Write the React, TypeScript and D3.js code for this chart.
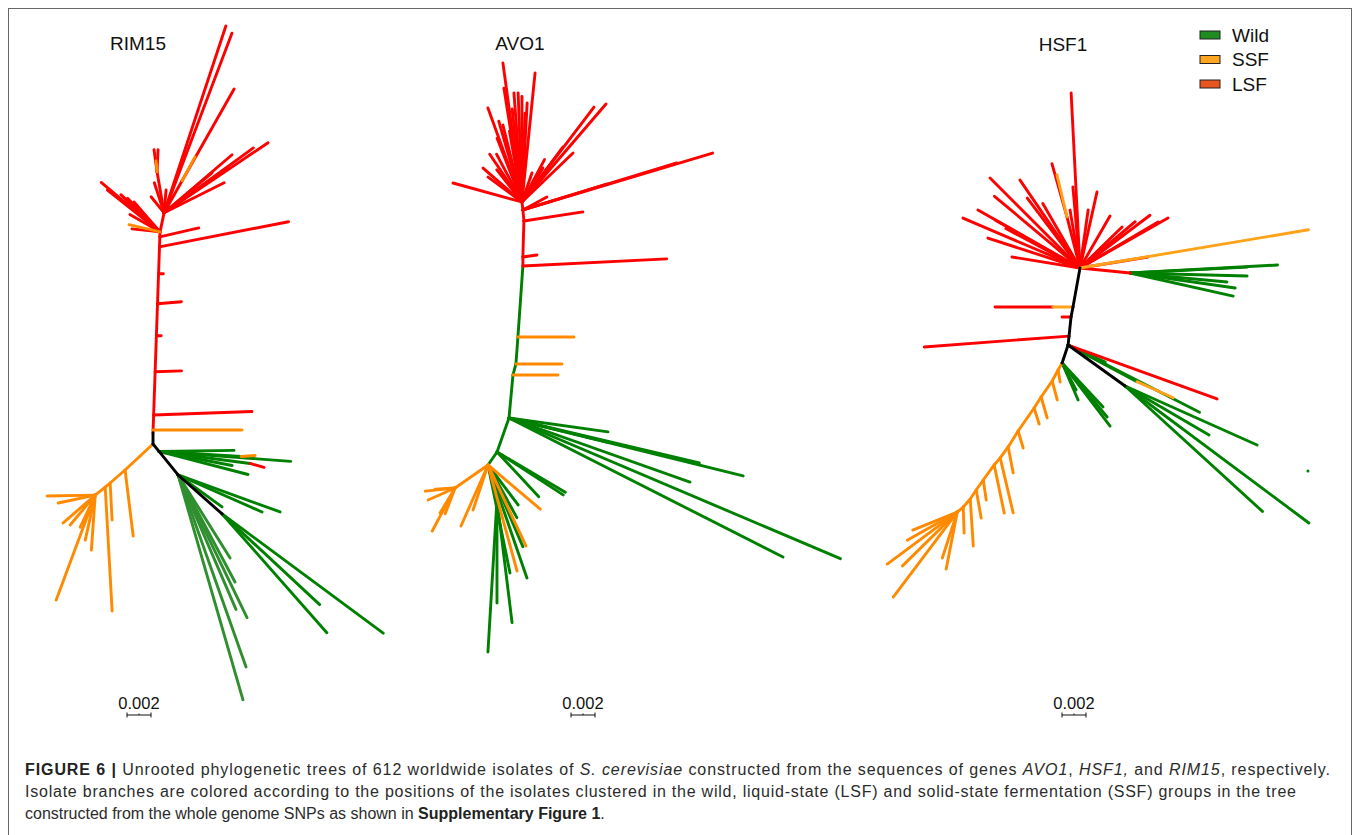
import React from "react";
import * as d3 from "d3";

// each branch: [parent, node id ("" for a tip), length (x0.001 subst./site), angle (deg), group]
type Edge = [string, string, number, number, string];

const rim15Edges: Edge[] = [
  ["O", "A", 0.92, 90, "k"],
  ["A", "s1", 0.25, 88, "r"],
  ["s1", "", 7.4, 0, "o"],
  ["s1", "s2", 1.25, 88, "r"],
  ["s2", "", 8.2, 2, "r"],
  ["s2", "s3", 3.6, 88, "r"],
  ["s3", "", 2.2, 2, "r"],
  ["s3", "s4", 3.0, 88, "r"],
  ["s4", "", 0.4, 0, "r"],
  ["s4", "s5", 2.67, 88, "r"],
  ["s5", "", 2.0, 5, "r"],
  ["s5", "s6", 2.5, 88, "r"],
  ["s6", "", 0.4, 0, "r"],
  ["s6", "s7", 2.25, 88, "r"],
  ["s7", "", 10.95, 11, "r"],
  ["s7", "s8", 0.83, 88, "r"],
  ["s8", "", 3.33, 13, "r"],
  ["s8", "H1", 0.42, 88, "r"],
  ["H1", "", 6.4, 140, "r"],
  ["H1", "", 5.6, 141.5, "r"],
  ["H1", "", 4.5, 136.5, "r"],
  ["H1", "", 3.9, 134, "r"],
  ["H1", "", 3.3, 131, "r"],
  ["H1", "", 2.9, 150, "r"],
  ["H1", "", 2.35, 174, "r"],
  ["H1", "", 2.65, 167, "o"],
  ["H1", "H2", 1.62, 78, "r"],
  ["H2", "n1", 3.47, 99.7, "r"],
  ["n1", "", 1.85, 97.8, "r"],
  ["n1", "", 1.84, 87.4, "r"],
  ["n1", "", 0.92, 95, "o"],
  ["H2", "", 2.63, 108, "r"],
  ["H2", "", 1.72, 129, "r"],
  ["H2", "", 1.92, 85, "r"],
  ["H2", "", 16.4, 71.7, "r"],
  ["H2", "", 16.0, 69.3, "r"],
  ["H2", "m", 3.06, 60.6, "r"],
  ["m", "", 8.8, 60.5, "r"],
  ["m", "", 2.27, 61.6, "o"],
  ["H2", "", 10.45, 34, "r"],
  ["H2", "", 9.2, 36, "r"],
  ["H2", "", 6.45, 35.5, "r"],
  ["H2", "", 7.45, 40.5, "r"],
  ["H2", "", 5.6, 26.6, "r"],
  ["H2", "", 5.2, 39.8, "r"],
  ["O", "a1", 3.18, -137, "o"],
  ["a1", "", 5.54, -83, "o"],
  ["a1", "a2", 1.65, -139, "o"],
  ["a2", "", 3.09, -87, "o"],
  ["a2", "a3", 0.53, -141, "o"],
  ["a3", "", 10.35, -86.8, "o"],
  ["a3", "a4", 1.07, -141, "o"],
  ["a4", "", 4.0, -179, "o"],
  ["a4", "", 3.15, -168, "o"],
  ["a4", "", 3.54, -139, "o"],
  ["a4", "", 3.25, -130, "o"],
  ["a4", "", 3.84, -102.5, "o"],
  ["a4", "", 4.6, -94, "o"],
  ["a4", "", 9.33, -110.4, "o"],
  ["a4", "", 2.95, -115, "o"],
  ["O", "g0", 0.8, -51, "k"],
  ["g0", "", 6.25, 0.8, "g"],
  ["g0", "", 11.0, -4.3, "g"],
  ["g0", "gA", 6.85, -3.5, "g"],
  ["gA", "", 1.17, 4, "o"],
  ["g0", "gB", 7.65, -7.5, "g"],
  ["gB", "", 1.21, -16, "r"],
  ["g0", "", 7.66, -14.5, "g"],
  ["g0", "", 6.2, -10.9, "g"],
  ["g0", "b1", 2.52, -51, "k"],
  ["b1", "", 4.53, -36, "g"],
  ["b1", "", 7.65, -23.8, "g"],
  ["b1", "", 9.04, -19.9, "g"],
  ["b1", "", 19.5, -73.9, "f"],
  ["b1", "", 16.97, -70.5, "f"],
  ["b1", "", 13.2, -64.2, "f"],
  ["b1", "", 10.1, -62, "f"],
  ["b1", "", 8.16, -57.9, "f"],
  ["b1", "", 12.2, -66.7, "f"],
  ["b1", "b2", 4.9, -41.5, "k"],
  ["b2", "", 16.7, -36.5, "g"],
  ["b2", "", 13.2, -48.6, "g"],
  ["b2", "", 11.1, -42.9, "g"],
];

const avo1Edges: Edge[] = [
  ["O", "v1", 3.6, 84.7, "g"],
  ["v1", "", 3.75, 0, "o"],
  ["v1", "v2", 0.95, 75, "g"],
  ["v2", "", 3.83, 0, "o"],
  ["v2", "v3", 2.26, 85.8, "g"],
  ["v3", "", 4.67, 0, "o"],
  ["v3", "v4", 5.93, 86, "g"],
  ["v4", "", 12.0, 2.8, "r"],
  ["v4", "v5", 0.75, 90, "r"],
  ["v5", "", 1.18, 8, "r"],
  ["v5", "v6", 3.0, 88.4, "r"],
  ["v6", "", 4.97, 8.7, "r"],
  ["v6", "v7", 0.92, 95, "r"],
  ["v7", "", 2.27, 28.4, "r"],
  ["v7", "", 16.5, 16.7, "r"],
  ["v7", "", 7.3, 17.2, "r"],
  ["v7", "", 13.4, 17, "r"],
  ["v7", "H", 0.67, 97, "r"],
  ["H", "", 11.7, 97.8, "r"],
  ["H", "", 10.8, 84.2, "r"],
  ["H", "", 9.6, 99, "r"],
  ["H", "", 9.1, 94.2, "r"],
  ["H", "", 9.1, 92, "r"],
  ["H", "", 8.8, 90, "r"],
  ["H", "", 7.4, 88, "r"],
  ["H", "", 7.8, 96, "r"],
  ["H", "", 7.0, 106, "r"],
  ["H", "", 6.0, 100, "r"],
  ["H", "", 8.33, 109.9, "r"],
  ["H", "", 5.7, 111.3, "r"],
  ["H", "", 6.6, 103.9, "r"],
  ["H", "", 4.5, 118, "r"],
  ["H", "", 4.8, 124, "r"],
  ["H", "", 8.26, 87, "r"],
  ["H", "", 9.93, 52.8, "r"],
  ["H", "", 10.76, 49.4, "r"],
  ["H", "", 5.7, 53.3, "r"],
  ["H", "", 4.0, 62, "r"],
  ["H", "", 3.33, 58.3, "r"],
  ["H", "", 2.56, 71, "r"],
  ["H", "", 5.96, 164.6, "r"],
  ["H", "", 4.3, 138.9, "r"],
  ["H", "", 3.4, 128, "r"],
  ["H", "", 3.5, 143.7, "r"],
  ["H", "", 5.9, 43.8, "r"],
  ["O", "", 8.33, -8, "g"],
  ["O", "", 8.4, -13.8, "g"],
  ["O", "", 20.1, -13.9, "g"],
  ["O", "", 16.0, -19.5, "g"],
  ["O", "", 16.3, -13.3, "g"],
  ["O", "", 30.0, -23, "g"],
  ["O", "", 25.6, -26.9, "g"],
  ["O", "w1", 3.0, -109.4, "g"],
  ["w1", "", 6.6, -30.5, "g"],
  ["w1", "", 6.57, -33, "g"],
  ["w1", "", 5.1, -47, "g"],
  ["w1", "w2", 1.32, -124.7, "g"],
  ["w2", "", 5.7, -40.2, "o"],
  ["w2", "", 4.17, -53, "g"],
  ["w2", "", 5.0, -61.3, "g"],
  ["w2", "", 7.45, -64.9, "o"],
  ["w2", "", 7.4, -66.9, "g"],
  ["w2", "", 9.96, -71, "g"],
  ["w2", "", 9.16, -74.7, "o"],
  ["w2", "", 9.18, -78.5, "g"],
  ["w2", "w3", 3.0, -75.6, "g"],
  ["w3", "", 12.7, -93.4, "g"],
  ["w3", "", 8.6, -90, "g"],
  ["w3", "", 10.3, -83, "g"],
  ["w2", "o1", 3.35, -145, "o"],
  ["w2", "", 3.95, -108.4, "o"],
  ["w2", "", 5.56, -113.9, "o"],
  ["o1", "", 2.5, -174, "o"],
  ["o1", "", 2.46, -156, "o"],
  ["o1", "", 4.06, -118, "o"],
  ["o1", "", 2.43, -121, "o"],
  ["o1", "", 2.3, -111, "o"],
  ["o1", "", 1.67, -177, "o"],
];

const hsf1Edges: Edge[] = [
  ["H", "s1", 3.3, -100.2, "k"],
  ["s1", "t1", 1.67, 180, "y"],
  ["t1", "", 4.83, 180, "r"],
  ["s1", "s2", 0.85, -101, "k"],
  ["s2", "", 0.75, 180, "r"],
  ["s2", "s3", 1.6, -96, "k"],
  ["s3", "", 12.1, -175.7, "r"],
  ["s3", "J", 0.75, -96, "k"],
  ["J", "", 13.2, -19.9, "r"],
  ["J", "", 3.4, -24.7, "g"],
  ["J", "", 12.3, -27.1, "g"],
  ["J", "q", 6.5, -28, "g"],
  ["q", "", 3.3, -24, "y"],
  ["J", "L", 5.85, -35.7, "k"],
  ["L", "", 19.1, -36.7, "g"],
  ["L", "", 15.5, -42.4, "g"],
  ["L", "", 8.1, -30.3, "g"],
  ["L", "", 12.05, -24.1, "g"],
  ["L", "", 16.8, -24.9, "d"],
  ["J", "K", 1.58, -108.4, "k"],
  ["K", "", 3.36, -66.6, "g"],
  ["K", "", 5.0, -47, "g"],
  ["K", "", 6.6, -52.7, "g"],
  ["K", "", 5.86, -50.2, "g"],
  ["K", "", 2.53, -62.6, "g"],
  ["K", "c1", 0.67, -119.7, "o"],
  ["c1", "", 1.01, -80.5, "o"],
  ["c1", "c2", 1.04, -118.6, "o"],
  ["c2", "", 1.64, -75, "o"],
  ["c2", "c3", 1.62, -124.5, "o"],
  ["c3", "", 1.82, -74, "o"],
  ["c3", "c4", 1.09, -122.5, "o"],
  ["c4", "", 1.4, -72.6, "o"],
  ["c4", "c5", 2.33, -124.8, "o"],
  ["c5", "", 1.48, -73.6, "o"],
  ["c5", "c6", 1.57, -122, "o"],
  ["c6", "", 2.2, -79, "o"],
  ["c6", "c7", 1.13, -126, "o"],
  ["c7", "", 4.7, -76.7, "o"],
  ["c7", "c8", 0.77, -130.6, "o"],
  ["c8", "", 4.09, -78.2, "o"],
  ["c8", "c9", 1.55, -126, "o"],
  ["c9", "", 1.69, -81.5, "o"],
  ["c9", "c10", 1.02, -125, "o"],
  ["c10", "", 2.37, -80, "o"],
  ["c10", "c11", 0.9, -123.7, "o"],
  ["c11", "", 3.92, -86.3, "o"],
  ["c11", "c12", 0.89, -131, "o"],
  ["c12", "", 2.17, -88, "o"],
  ["c12", "c13", 0.65, -140, "o"],
  ["c13", "", 7.27, -143.4, "o"],
  ["c13", "", 8.87, -127, "o"],
  ["c13", "", 6.4, -135.5, "o"],
  ["c13", "", 4.0, -158, "o"],
  ["c13", "", 4.84, -101, "o"],
  ["c13", "", 4.03, -108, "o"],
  ["c13", "", 4.78, -150.7, "o"],
  ["H", "", 14.6, 92.9, "r"],
  ["H", "p1", 4.4, 104.3, "r"],
  ["p1", "", 4.6, 105.8, "r"],
  ["p1", "", 3.6, 103.4, "y"],
  ["H", "", 6.5, 77.4, "r"],
  ["H", "", 4.88, 82, "r"],
  ["H", "", 10.6, 135, "r"],
  ["H", "", 9.3, 140, "r"],
  ["H", "", 8.87, 124.3, "r"],
  ["H", "", 6.2, 120, "r"],
  ["H", "", 9.78, 150.4, "r"],
  ["H", "", 7.0, 152, "r"],
  ["H", "", 10.6, 156.9, "r"],
  ["H", "", 8.07, 162, "r"],
  ["H", "", 5.74, 170.8, "r"],
  ["H", "", 7.3, 127, "r"],
  ["H", "", 8.1, 150.5, "r"],
  ["H", "", 7.3, 37, "r"],
  ["H", "", 6.0, 40, "r"],
  ["H", "", 5.0, 60, "r"],
  ["H", "", 8.43, 29.6, "r"],
  ["H", "", 4.9, 44.3, "r"],
  ["H", "", 5.74, 9.2, "r"],
  ["H", "", 6.78, 95, "r"],
  ["H", "", 4.9, 99.8, "r"],
  ["H", "", 7.55, 30.5, "r"],
  ["H", "", 19.3, 9.5, "y"],
  ["H", "G", 4.2, -5.7, "r"],
  ["G", "", 12.3, 3.1, "g"],
  ["G", "", 9.75, -1.5, "g"],
  ["G", "", 8.84, -8.1, "g"],
  ["G", "", 8.8, -12.6, "g"],
  ["G", "", 8.1, -5.3, "g"],
  ["G", "", 9.76, 2.9, "g"],
];

const treeNames = ["RIM15", "AVO1", "HSF1"];
const treeEdges = [rim15Edges, avo1Edges, hsf1Edges];
const scaleBarValue = 0.002;

const legendLabels = ["Wild", "SSF", "LSF"];
const legendColors = ["#1e8c1e", "#ffa51f", "#e8561f"];

// draw order: lighter greens first, black internal branches on top
const groupOrder = ["f", "g", "r", "o", "y", "d", "k"];
const groupColor: Record<string, string> = {
  k: "#000000",
  r: "#ff0000",
  o: "#ff8a00",
  y: "#ffa21a",
  g: "#008000",
  f: "#2f8f2f",
  d: "#008000",
};

// layout per panel (pixels)
const panels = [
  { root: [153, 444], title: [138, 50], bar: [127, 715] },
  { root: [509, 418], title: [520, 50], bar: [571, 715] },
  { root: [1080, 268], title: [1063, 51], bar: [1062, 715] },
];
const pxPerUnit = 12; // px per 0.001 subst./site

function layout(edges: Edge[]) {
  const pos = new Map<string, [number, number]>();
  pos.set(edges[0][0], [0, 0]);
  const segs: { x0: number; y0: number; x1: number; y1: number; g: string }[] = [];
  edges.forEach(([p, id, len, ang, g]) => {
    const [x0, y0] = pos.get(p)!;
    const a = (ang * Math.PI) / 180;
    const x1 = x0 + len * Math.cos(a);
    const y1 = y0 + len * Math.sin(a);
    if (id) pos.set(id, [x1, y1]);
    segs.push({ x0, y0, x1, y1, g });
  });
  return segs.sort((a, b) => groupOrder.indexOf(a.g) - groupOrder.indexOf(b.g));
}

const FONT = "'Liberation Sans', Arial, Helvetica, sans-serif";

function Tree({ idx }: { idx: number }) {
  const cfg = panels[idx];
  const sx = d3.scaleLinear().domain([0, 1]).range([cfg.root[0], cfg.root[0] + pxPerUnit]);
  const sy = d3.scaleLinear().domain([0, 1]).range([cfg.root[1], cfg.root[1] - pxPerUnit]);
  const segs = layout(treeEdges[idx]);
  const barLen = sx(scaleBarValue * 1000) - sx(0);
  const [bx, by] = cfg.bar;
  return (
    <g>
      <text x={cfg.title[0]} y={cfg.title[1]} textAnchor="middle" fontSize={19} fontFamily={FONT} fill="#111">
        {treeNames[idx]}
      </text>
      {segs.map((s, i) =>
        s.g === "d" ? (
          <circle key={i} cx={sx(s.x1)} cy={sy(s.y1)} r={1.5} fill={groupColor.d} />
        ) : (
          <line
            key={i}
            x1={sx(s.x0)}
            y1={sy(s.y0)}
            x2={sx(s.x1)}
            y2={sy(s.y1)}
            stroke={groupColor[s.g]}
            strokeWidth={2.9}
            strokeLinecap="round"
          />
        )
      )}
      <text x={bx + barLen / 2} y={by - 6} textAnchor="middle" fontSize={16.5} fontFamily={FONT} fill="#111">
        {String(scaleBarValue)}
      </text>
      <g stroke="#111" strokeWidth={1}>
        <line x1={bx} x2={bx + barLen} y1={by} y2={by} />
        <line x1={bx} x2={bx} y1={by - 2.5} y2={by + 2.5} />
        <line x1={bx + barLen} x2={bx + barLen} y1={by - 2.5} y2={by + 2.5} />
        <line x1={bx + barLen / 2} x2={bx + barLen / 2} y1={by - 1.5} y2={by} />
      </g>
    </g>
  );
}

export default function App() {
  const legendY = d3.scalePoint<string>().domain(legendLabels).range([35, 84]);
  return (
    <svg
      width={1358}
      height={835}
      style={{ position: "absolute", left: 0, top: 0, display: "block", background: "#fff" }}
    >
      <rect x={0} y={0} width={1358} height={835} fill="#fff" />
      <rect x={8.5} y={8.5} width={1343} height={900} fill="none" stroke="#666" strokeWidth={1} />
      {treeNames.map((_, i) => (
        <Tree key={i} idx={i} />
      ))}
      {legendLabels.map((l, i) => (
        <g key={l}>
          <rect x={1200} y={legendY(l)! - 4} width={20} height={8} fill={legendColors[i]} stroke="#222" strokeWidth={1} />
          <text x={1232} y={legendY(l)! + 6.5} fontSize={19} fontFamily={FONT} fill="#111">
            {l}
          </text>
        </g>
      ))}
      <g fontFamily={FONT} fontSize={16} fill="#2b2b2b">
        <text x={25} y={775} textLength={1305} lengthAdjust="spacing">
          <tspan fontWeight="bold" fill="#222">FIGURE 6 | </tspan>
          Unrooted phylogenetic trees of 612 worldwide isolates of <tspan fontStyle="italic">S. cerevisiae</tspan>{" "}
          constructed from the sequences of genes <tspan fontStyle="italic">AVO1</tspan>,{" "}
          <tspan fontStyle="italic">HSF1,</tspan> and <tspan fontStyle="italic">RIM15</tspan>, respectively.
        </text>
        <text x={25} y={797} textLength={1271} lengthAdjust="spacing">
          Isolate branches are colored according to the positions of the isolates clustered in the wild, liquid-state (LSF)
          and solid-state fermentation (SSF) groups in the tree
        </text>
        <text x={25} y={819}>
          constructed from the whole genome SNPs as shown in <tspan fontWeight="bold" fill="#222">Supplementary Figure 1</tspan>.
        </text>
      </g>
    </svg>
  );
}
